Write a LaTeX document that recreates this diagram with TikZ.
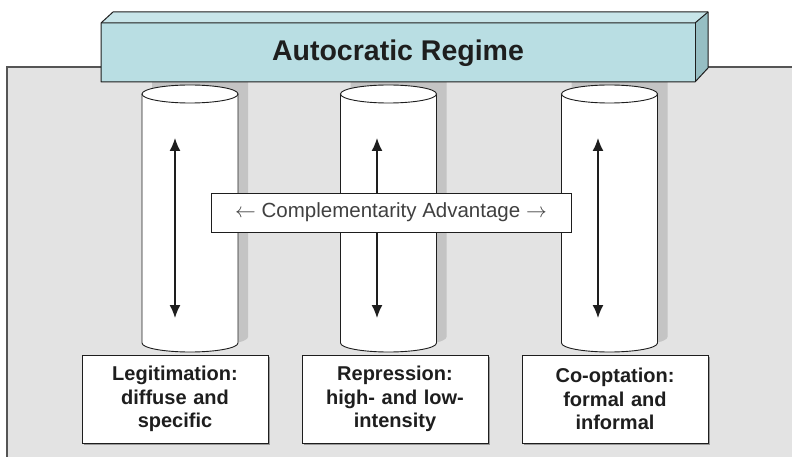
\documentclass[tikz,border=0pt]{standalone}
\usepackage{fontspec}
\setmainfont{Liberation Sans}
\usetikzlibrary{arrows.meta,shadows}
\definecolor{bggray}{HTML}{E3E3E3}
\definecolor{bgline}{HTML}{555555}
\definecolor{shadowgray}{HTML}{C4C4C4}
\definecolor{beamfront}{HTML}{B9DEE3}
\definecolor{beamtop}{HTML}{C8E5E9}
\definecolor{beamside}{HTML}{96BEC3}
\definecolor{ink}{HTML}{1E1E1E}
\tikzset{
  outline/.style={draw=ink, line width=1pt},
  pillarshadow/.style={fill=shadowgray, draw=none},
  pillarbody/.style={fill=white, draw=ink, line width=0.9pt},
  twoway/.style={{Latex[length=13pt,width=11pt]}-{Latex[length=13pt,width=11pt]}, line width=1.5pt, draw=ink},
  labelbox/.style={fill=white, draw=ink, line width=0.9pt, minimum width=186pt, minimum height=88pt,
    text width=176pt, align=center, inner sep=0pt, text=ink,
    font=\fontsize{20}{23.5}\selectfont\bfseries,
    drop shadow={shadow xshift=1.5pt, shadow yshift=-1.5pt, fill=gray!80, opacity=1}},
  compbox/.style={fill=white, draw=ink, line width=0.9pt, minimum width=360pt, minimum height=39pt,
    inner sep=0pt, text=ink!85, font=\fontsize{20.5}{22}\selectfont,
    drop shadow={shadow xshift=1.2pt, shadow yshift=-1.2pt, fill=gray!70, opacity=1}},
  beamtext/.style={text=ink, font=\fontsize{28.5}{30}\selectfont\bfseries, inner sep=0pt}
}
\begin{document}
\begin{tikzpicture}[x=1pt,y=-1pt]
\useasboundingbox (0,0) rectangle (792,457);
% background panel
\fill[bggray] (7,67) rectangle (800,470);
\draw[bgline, line width=1.8pt] (800,67) -- (7,67) -- (7,470);
% pillar shadows
\foreach \c in {190,388.5,609.5}{
  \path[pillarshadow] ({\c-48+10},80) -- ({\c-48+10},337)
     arc[start angle=180,end angle=360,x radius=48pt,y radius=9pt] -- ({\c+48+10},80) -- cycle;
}
% pillars
\foreach \c/\n in {190/p1,388.5/p2,609.5/p3}{
  \path[pillarbody] ({\c-48},94) -- ({\c-48},343)
     arc[start angle=180,end angle=360,x radius=48pt,y radius=9pt] -- ({\c+48},94);
  \path[pillarbody] (\c,94) ellipse[x radius=48pt, y radius=9pt];
  \coordinate (\n) at (\c,94);
}
% arrows inside pillars
\coordinate (a1t) at (175,138); \coordinate (a1b) at (175,318);
\coordinate (a2t) at (377,138); \coordinate (a2b) at (377,318);
\coordinate (a3t) at (598,138); \coordinate (a3b) at (598,318);
\draw[twoway] (a1t) -- (a1b);
\draw[twoway] (a2t) -- (a2b);
\draw[twoway] (a3t) -- (a3b);
% complementarity box
\node[compbox] (comp) at (391,212.5) {$\leftarrow$\ Complementarity Advantage\ $\rightarrow$};
% label boxes
\node[labelbox] (legit) at (175,399) {Legitimation:\\diffuse and\\specific};
\node[labelbox] (repr) at (395,399) {Repression:\\high- and low-\\intensity};
\node[labelbox] (coopt) at (615,399) {Co-optation:\\formal and\\informal};
% beam
\fill[beamtop] (101,23) -- (113,12) -- (708,12) -- (695,23) -- cycle;
\fill[beamside] (695,23) -- (708,12) -- (708,68) -- (695,82) -- cycle;
\node[fill=beamfront, minimum width=594pt, minimum height=59pt, inner sep=0pt, anchor=north west] (beam) at (101,23) {};
\draw[outline, line join=round] (101,23) -- (113,12) -- (708,12) -- (708,68) -- (695,82) -- (101,82) -- cycle;
\draw[outline] (101,23) -- (695,23) -- (708,12);
\draw[outline] (695,23) -- (695,82);
\node[beamtext] (title) at (398,53) {Autocratic Regime};
\end{tikzpicture}
\end{document}
